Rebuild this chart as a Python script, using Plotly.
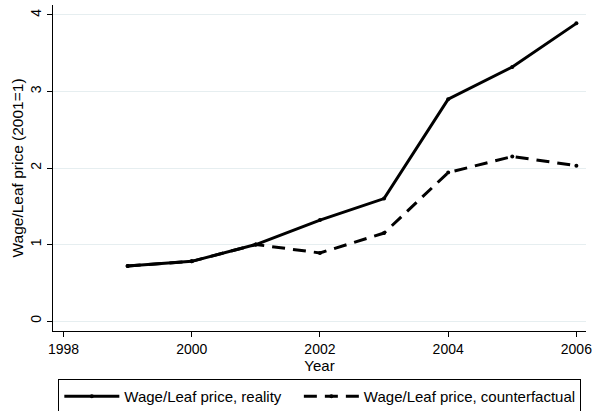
import plotly.graph_objects as go

years = [1999, 2000, 2001, 2002, 2003, 2004, 2005, 2006]
reality = [0.72, 0.78, 1.00, 1.32, 1.60, 2.90, 3.32, 3.89]
counterfactual = [0.72, 0.78, 1.00, 0.89, 1.15, 1.94, 2.15, 2.03]

x_ticks = [1998, 2000, 2002, 2004, 2006]
y_ticks = [0, 1, 2, 3, 4]

font = "Liberation Sans, Arial, sans-serif"

fig = go.Figure()
fig.add_trace(go.Scatter(
    x=years, y=counterfactual, mode="lines+markers",
    name="Wage/Leaf price, counterfactual",
    line=dict(color="black", width=3, dash="13px,8px"),
    marker=dict(color="black", size=4),
    legendrank=2,
))
fig.add_trace(go.Scatter(
    x=years, y=reality, mode="lines+markers",
    name="Wage/Leaf price, reality\u00a0\u00a0\u00a0",
    line=dict(color="black", width=3),
    marker=dict(color="black", size=4),
    legendrank=1,
))

fig.update_layout(
    width=592, height=411,
    margin=dict(l=53, r=6, t=5, b=80, autoexpand=False),
    paper_bgcolor="white", plot_bgcolor="white",
    font=dict(family=font, size=14, color="black"),
    showlegend=True,
    legend=dict(
        orientation="h", x=0.01, xanchor="left", y=-0.147, yanchor="top",
        bordercolor="black", borderwidth=1, itemwidth=55,
        font=dict(size=15), traceorder="normal",
    ),
    xaxis=dict(
        range=[1997.836, 2006.15], tickvals=x_ticks,
        ticks="outside", ticklen=5, tickcolor="black",
        ticklabeloverflow="allow",
        showline=True, linecolor="black", linewidth=1,
        showgrid=False, zeroline=False,
        title=dict(text="Year", standoff=0, font=dict(size=15)),
    ),
    yaxis=dict(
        range=[-0.13, 4.13], tickvals=y_ticks,
        ticks="outside", ticklen=5, tickcolor="black", tickangle=-90,
        showline=True, linecolor="black", linewidth=1,
        showgrid=True, gridcolor="#e6eef0", gridwidth=1,
        zeroline=False,
        title=dict(text="Wage/Leaf price (2001=1)", standoff=0, font=dict(size=15.5)),
    ),
)

fig.write_html("out.html")
